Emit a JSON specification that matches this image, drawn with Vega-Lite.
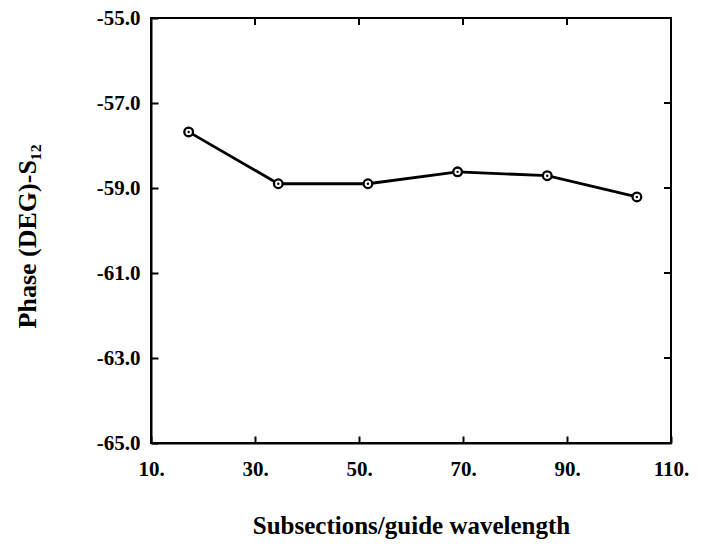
{
  "$schema": "https://vega.github.io/schema/vega-lite/v6.json",
  "width": 520,
  "height": 425,
  "autosize": "none",
  "padding": {"left": 151, "top": 18, "right": 30, "bottom": 103},
  "background": "white",
  "config": {
    "view": {"stroke": "black", "strokeWidth": 2},
    "font": "Liberation Serif",
    "axis": {"grid": false, "domainColor": "black", "domainWidth": 2, "tickColor": "black", "tickWidth": 2, "tickSize": -7,
      "labelFont": "Liberation Serif", "labelFontSize": 21, "labelFontWeight": "bold", "labelColor": "black",
      "titleFont": "Liberation Serif", "titleFontSize": 25, "titleFontWeight": "bold", "titleColor": "black"}
  },
  "data": {"values": [
    {"x": 17.24, "y": -57.68},
    {"x": 34.48, "y": -58.9},
    {"x": 51.72, "y": -58.9},
    {"x": 68.96, "y": -58.62},
    {"x": 86.2, "y": -58.71},
    {"x": 103.44, "y": -59.21}
  ]},
  "layer": [
    {"mark": {"type": "line", "color": "black", "strokeWidth": 2.8},
      "encoding": {
        "x": {"field": "x", "type": "quantitative", "scale": {"domain": [10, 110], "nice": false, "zero": false},
          "axis": {"values": [10, 30, 50, 70, 90, 110], "labelExpr": "format(datum.value, 'd') + '.'", "labelAlign": "center", "labelDx": 9, "labelPadding": 22,
            "title": "Subsections/guide wavelength", "titlePadding": 34}},
        "y": {"field": "y", "type": "quantitative", "scale": {"domain": [-65, -55], "nice": false, "zero": false},
          "axis": {"values": [-65, -63, -61, -59, -57, -55], "labelExpr": "replace(format(datum.value, '.1f'), '−', '-')", "labelPadding": 18,
            "title": "Phase (DEG)-S₁₂", "titleFontSize": 26, "titlePadding": 56, "titleY": 218}}
      }},
    {"mark": {"type": "point", "shape": "circle", "filled": false, "fill": "white", "fillOpacity": 1, "stroke": "black", "strokeWidth": 2.3, "size": 75, "opacity": 1},
      "encoding": {"x": {"field": "x", "type": "quantitative"}, "y": {"field": "y", "type": "quantitative"}}},
    {"mark": {"type": "point", "shape": "circle", "filled": true, "color": "black", "size": 6, "opacity": 1},
      "encoding": {"x": {"field": "x", "type": "quantitative"}, "y": {"field": "y", "type": "quantitative"}}},
    {"data": {"values": [
        {"a": 30, "a2": 30, "b": -55, "b2": -55.165},
        {"a": 50, "a2": 50, "b": -55, "b2": -55.165},
        {"a": 70, "a2": 70, "b": -55, "b2": -55.165},
        {"a": 90, "a2": 90, "b": -55, "b2": -55.165},
        {"a": 110, "a2": 108.65, "b": -57, "b2": -57},
        {"a": 110, "a2": 108.65, "b": -59, "b2": -59},
        {"a": 110, "a2": 108.65, "b": -61, "b2": -61},
        {"a": 110, "a2": 108.65, "b": -63, "b2": -63}
      ]},
      "mark": {"type": "rule", "color": "black", "strokeWidth": 2},
      "encoding": {"x": {"field": "a", "type": "quantitative"}, "x2": {"field": "a2"}, "y": {"field": "b", "type": "quantitative"}, "y2": {"field": "b2"}}}
  ]
}
